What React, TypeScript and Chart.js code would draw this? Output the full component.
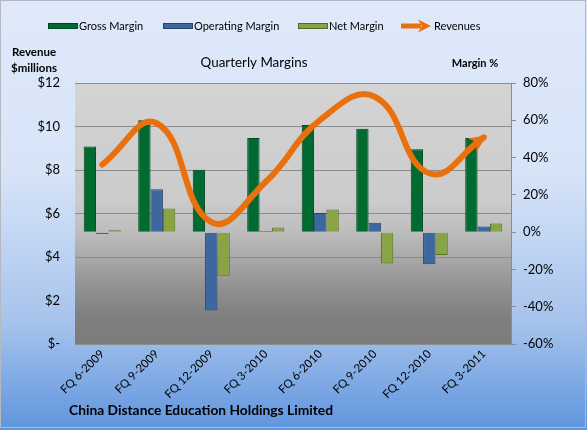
import React, { useEffect, useRef } from 'react';
import { Chart, registerables } from 'chart.js';

Chart.register(...registerables);

const categories = ['FQ 6-2009', 'FQ 9-2009', 'FQ 12-2009', 'FQ 3-2010', 'FQ 6-2010', 'FQ 9-2010', 'FQ 12-2010', 'FQ 3-2011'];
const grossMargin = [46, 60, 33.5, 50.5, 57.5, 55.5, 44.5, 50.5];
const operatingMargin = [-1, 23, -42, 0.6, 10.3, 5, -17.2, 3];
const netMargin = [1, 12.7, -23.4, 2.5, 12.2, -16.8, -12.3, 4.7];
const revenues = [8.25, 10.15, 5.6, 7.46, 10.3, 11.37, 7.85, 9.5];

const revenueMin = 0;
const revenueMax = 12;
const revenueStep = 2;
const marginMin = -60;
const marginMax = 80;
const marginStep = 20;

const chartTitle = 'Quarterly Margins';
const leftAxisTitle = ['Revenue', '$millions'];
const rightAxisTitle = 'Margin %';
const footerText = 'China Distance Education Holdings Limited';

const FONT = 'Lato, "Open Sans", sans-serif';

const GREEN = '#006a31';
const BLUE = '#3c679f';
const OLIVE = '#88a444';
const ORANGE = '#ea700d';

function drawArrowHead(ctx: CanvasRenderingContext2D, x: number, y: number, dx: number, dy: number, len: number, half: number) {
  const l = Math.hypot(dx, dy) || 1;
  const ux = dx / l, uy = dy / l;
  const px = -uy, py = ux;
  const bx = x - ux * len, by = y - uy * len;
  const nx = x - ux * len * 0.7, ny = y - uy * len * 0.7;
  ctx.beginPath();
  ctx.moveTo(x, y);
  ctx.lineTo(bx + px * half, by + py * half);
  ctx.lineTo(nx, ny);
  ctx.lineTo(bx - px * half, by - py * half);
  ctx.closePath();
  ctx.fill();
}

function barFill(base: string, edge: string) {
  return (c: any) => {
    const el = c.element;
    const chart = c.chart;
    if (!el || el.width == null || !isFinite(el.x)) return base;
    const x0 = el.x - el.width / 2;
    const x1 = el.x + el.width / 2;
    const g = chart.ctx.createLinearGradient(x0, 0, x1, 0);
    g.addColorStop(0, edge);
    g.addColorStop(0.2, base);
    g.addColorStop(0.8, base);
    g.addColorStop(1, edge);
    return g;
  };
}

const decorPlugin = {
  id: 'decor',
  beforeDraw(chart: any) {
    const { ctx, width, height, chartArea } = chart;
    ctx.save();
    const g = ctx.createLinearGradient(0, 0, 0, height);
    g.addColorStop(0, '#dfe9fa');
    g.addColorStop(0.4, '#d7e4f8');
    g.addColorStop(0.75, '#a7c3ec');
    g.addColorStop(1, '#5f95de');
    ctx.fillStyle = g;
    ctx.fillRect(0, 0, width, height);
    ctx.strokeStyle = '#b4b8c0';
    ctx.lineWidth = 1;
    ctx.strokeRect(0.5, 0.5, width - 2, height - 3);

    const a = chartArea;
    const pg = ctx.createLinearGradient(0, a.top, 0, a.bottom);
    pg.addColorStop(0, '#d4d4d4');
    pg.addColorStop(0.45, '#cbcbcb');
    pg.addColorStop(0.57, '#bdbdbd');
    pg.addColorStop(0.82, '#8a8a8a');
    pg.addColorStop(0.9, '#7f7f7f');
    pg.addColorStop(1, '#7c7c7c');
    ctx.fillStyle = pg;
    ctx.fillRect(a.left, a.top, a.right - a.left, a.bottom - a.top);
    ctx.restore();
  },
  afterDatasetsDraw(chart: any) {
    const { ctx } = chart;
    const idx = chart.data.datasets.findIndex((d: any) => d.type === 'line');
    const meta = chart.getDatasetMeta(idx);
    const pts = meta.data;
    const p = pts[pts.length - 1];
    if (!p) return;
    const dx = p.x - (p.cp1x ?? pts[pts.length - 2].x);
    const dy = p.y - (p.cp1y ?? pts[pts.length - 2].y);
    ctx.save();
    ctx.fillStyle = ORANGE;
    const l = Math.hypot(dx, dy) || 1;
    drawArrowHead(ctx, p.x + (dx / l) * 4, p.y + (dy / l) * 4, dx, dy, 18, 8);
    ctx.restore();
  },
  afterDraw(chart: any) {
    const { ctx } = chart;
    ctx.save();
    ctx.fillStyle = '#000';
    ctx.textBaseline = 'middle';

    // legend
    const ds = chart.data.datasets;
    const items = [
      { x: 48, color: GREEN, label: ds[0].label },
      { x: 163, color: BLUE, label: ds[1].label },
      { x: 298, color: OLIVE, label: ds[2].label },
    ];
    ctx.font = `11px ${FONT}`;
    ctx.textAlign = 'left';
    for (const it of items) {
      ctx.fillStyle = it.color;
      ctx.fillRect(it.x, 23, 30, 6);
      ctx.strokeStyle = 'rgba(0,0,0,0.35)';
      ctx.lineWidth = 1;
      ctx.strokeRect(it.x + 0.5, 23.5, 29, 5);
      ctx.fillStyle = '#000';
      ctx.fillText(it.label, it.x + 31, 26);
    }
    ctx.strokeStyle = ORANGE;
    ctx.lineWidth = 5;
    ctx.lineCap = 'butt';
    ctx.beginPath();
    ctx.moveTo(401, 26);
    ctx.lineTo(421, 26);
    ctx.stroke();
    ctx.fillStyle = ORANGE;
    drawArrowHead(ctx, 431, 26, 1, 0, 13, 6.5);
    ctx.fillStyle = '#000';
    ctx.fillText(ds[3].label, 434, 26);

    // titles
    ctx.font = `13.4px ${FONT}`;
    ctx.textAlign = 'center';
    ctx.fillText(chartTitle, 254, 63);
    ctx.font = `bold 11.5px ${FONT}`;
    ctx.fillText(leftAxisTitle[0], 34, 52);
    ctx.fillText(leftAxisTitle[1], 34, 68);
    ctx.font = `bold 11px ${FONT}`;
    ctx.fillText(rightAxisTitle, 475, 63);
    ctx.font = `bold 13.8px ${FONT}`;
    ctx.textAlign = 'left';
    ctx.fillText(footerText, 69, 411);
    ctx.restore();
  },
};

export default function App() {
  const ref = useRef<HTMLCanvasElement | null>(null);

  useEffect(() => {
    if (!ref.current) return;
    const chart = new Chart(ref.current, {
      data: {
        labels: categories,
        datasets: [
          {
            type: 'bar',
            label: 'Gross Margin',
            data: grossMargin,
            yAxisID: 'y1',
            backgroundColor: barFill(GREEN, '#1f7d45'),
            borderColor: '#00461f',
            borderWidth: 1,
            order: 2,
          },
          {
            type: 'bar',
            label: 'Operating Margin',
            data: operatingMargin,
            yAxisID: 'y1',
            backgroundColor: barFill(BLUE, '#5a82b6'),
            borderColor: '#26456e',
            borderWidth: 1,
            order: 2,
          },
          {
            type: 'bar',
            label: 'Net Margin',
            data: netMargin,
            yAxisID: 'y1',
            backgroundColor: barFill(OLIVE, '#a2b966'),
            borderColor: '#5a7029',
            borderWidth: 1,
            order: 2,
          },
          {
            type: 'line',
            label: 'Revenues',
            data: revenues,
            yAxisID: 'y',
            borderColor: ORANGE,
            borderWidth: 6,
            borderCapStyle: 'round',
            tension: 0.45,
            pointRadius: 0,
            fill: false,
            order: 1,
          },
        ],
      } as any,
      options: {
        animation: false,
        responsive: false,
        events: [],
        layout: { padding: { top: 83, left: 0, right: 0, bottom: 0 } },
        datasets: {
          bar: { categoryPercentage: 0.68, barPercentage: 1.0 },
        } as any,
        plugins: {
          legend: { display: false },
          title: { display: false },
          tooltip: { enabled: false },
        },
        scales: {
          x: {
            grid: { display: false, drawTicks: false },
            border: { display: false },
            ticks: {
              minRotation: 45,
              maxRotation: 45,
              padding: 3,
              color: '#000',
              font: { family: FONT, size: 11.5 },
            },
            afterFit: (s: any) => { s.height = 86; },
          },
          y: {
            position: 'left',
            min: revenueMin,
            max: revenueMax,
            ticks: {
              stepSize: revenueStep,
              padding: 15,
              color: '#000',
              font: { family: FONT, size: 13 },
              callback: (v: any) => (Number(v) === 0 ? '$-' : '$' + v),
            },
            grid: { color: '#8c8c8c', drawTicks: false, lineWidth: 1 },
            border: { display: false },
            afterFit: (s: any) => { s.width = 75; },
          },
          y1: {
            position: 'right',
            min: marginMin,
            max: marginMax,
            ticks: {
              stepSize: marginStep,
              padding: 7,
              color: '#000',
              font: { family: FONT, size: 13 },
              callback: (v: any) => v + '%',
            },
            grid: { drawOnChartArea: false, drawTicks: true, tickLength: 5, color: '#8c8c8c' },
            border: { display: true, color: '#8c8c8c' },
            afterFit: (s: any) => { s.width = 76; },
          },
        },
      } as any,
      plugins: [decorPlugin],
    });
    return () => chart.destroy();
  }, []);

  return (
    <div style={{ position: 'absolute', left: 0, top: 0, width: 587, height: 430 }}>
      <canvas ref={ref} width={587} height={430} style={{ display: 'block' }} />
    </div>
  );
}
